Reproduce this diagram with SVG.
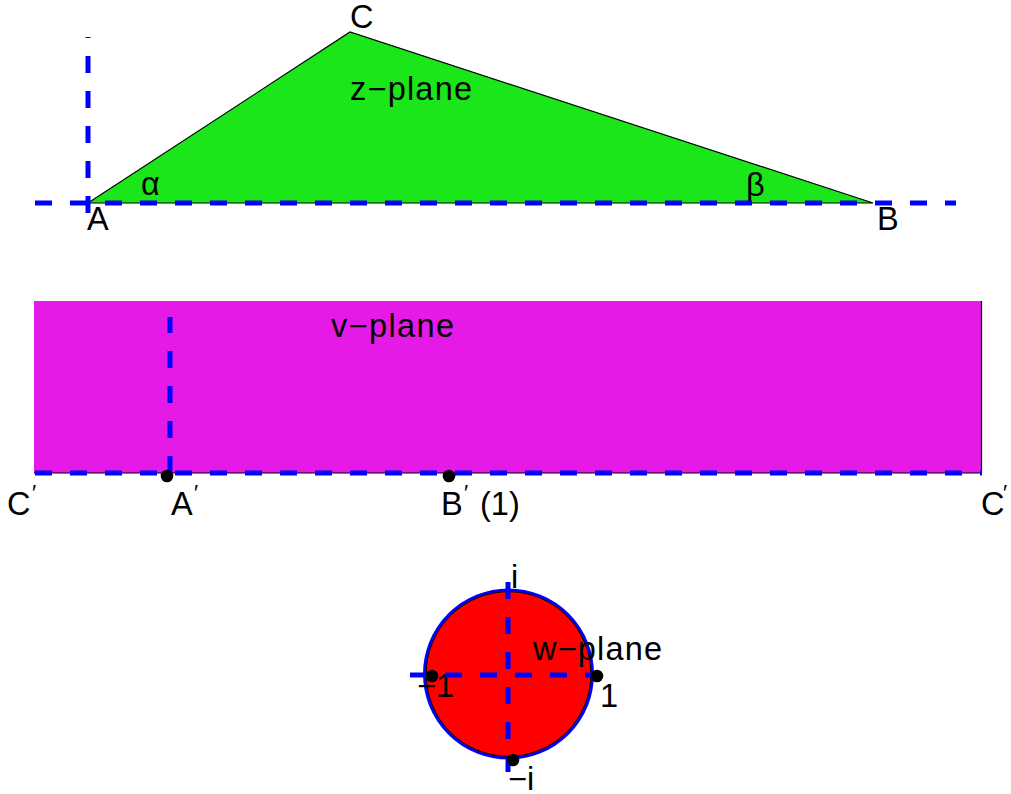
<svg xmlns="http://www.w3.org/2000/svg" width="1011" height="794" viewBox="0 0 1011 794">
<style>
text{font-family:"Liberation Sans",Arial,sans-serif;font-size:32.5px;fill:#000}
.pr{font-size:22px}
.dash{stroke:#0000ff;stroke-width:5;stroke-dasharray:17 18;fill:none}
.dot{fill:#000}
</style>
<rect width="1011" height="794" fill="#fff"/>
<g id="z-plane">
<polygon points="88,203 350,32 873,203" fill="#1ae61a" stroke="#000" stroke-width="1.2"/>
<text x="350" y="28">C</text>
<text x="350" y="100" textLength="122" lengthAdjust="spacing">z−plane</text>
<text x="141" y="195">α</text>
<text x="746" y="196">β</text>
<text x="87" y="230">A</text>
<text x="877" y="230">B</text>
</g>
<g id="v-plane">
<rect x="34" y="301" width="948" height="172" fill="#e61ae6"/>
<polyline points="34,473 981.5,473 981.5,301" fill="none" stroke="#000" stroke-width="1.2"/>
<text x="331" y="337" textLength="123" lengthAdjust="spacing">v−plane</text>
<text x="7" y="515">C</text><text class="pr" x="32" y="500">′</text>
<text x="171" y="515">A</text><text class="pr" x="194" y="500">′</text>
<text x="441" y="515">B</text><text class="pr" x="464" y="500">′</text>
<text x="480" y="515">(1)</text>
<text x="981" y="515">C</text><text class="pr" x="1003" y="500">′</text>
</g>
<g id="w-plane">
<circle cx="508.5" cy="674" r="84" fill="#ff0000" stroke="#0000ff" stroke-width="3"/>
<circle cx="508.5" cy="674" r="82.3" fill="none" stroke="#000" stroke-width="1"/>
<text x="511" y="588">i</text>
<text x="533" y="660" textLength="129" lengthAdjust="spacing">w−plane</text>
<text x="417" y="697">−1</text>
<text x="600" y="707">1</text>
<text x="508" y="790">−i</text>
</g>
<g id="connectors">
<line class="dash" x1="35" y1="203" x2="956" y2="203"/>
<line class="dash" x1="88" y1="213" x2="88" y2="37"/>
<line class="dash" x1="35" y1="473" x2="982" y2="473"/>
<line class="dash" x1="170" y1="473" x2="170" y2="317"/>
<line class="dash" x1="410" y1="675" x2="598" y2="675"/>
<line class="dash" x1="508" y1="582" x2="508" y2="772"/>
<circle class="dot" cx="167" cy="476" r="6.3"/>
<circle class="dot" cx="449" cy="476" r="6.3"/>
<circle class="dot" cx="432" cy="676" r="6.3"/>
<circle class="dot" cx="597" cy="676" r="6.3"/>
<circle class="dot" cx="513" cy="760" r="6.3"/>
</g>
</svg>
